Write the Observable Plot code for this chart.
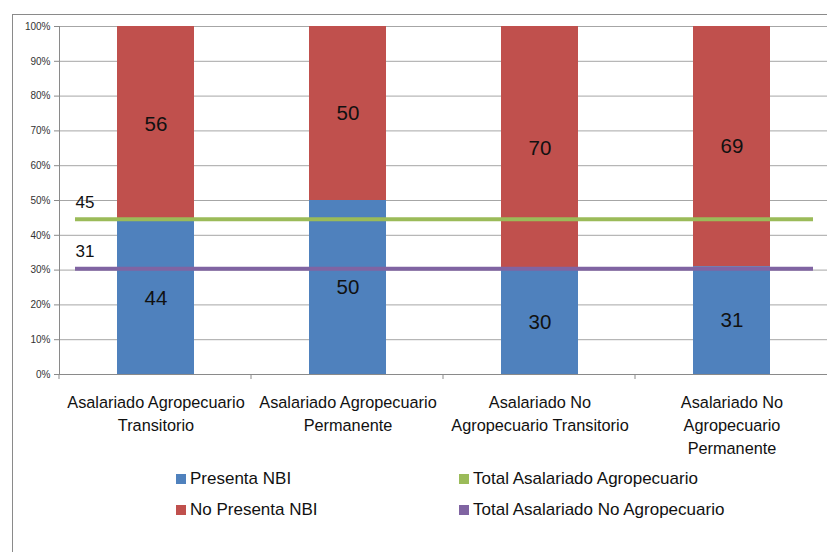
<!DOCTYPE html>
<html>
<head>
<meta charset="utf-8">
<script src="https://cdn.jsdelivr.net/npm/d3@7"></script>
<script src="https://cdn.jsdelivr.net/npm/@observablehq/plot@0.6"></script>
<style>
  html, body { margin: 0; padding: 0; background: #fff; }
  body { width: 827px; height: 552px; position: relative; overflow: hidden; font-family: "Liberation Sans", Arial, sans-serif; }
  #frame { position: absolute; left: 12px; top: 14px; width: 900px; height: 700px; border: 1px solid #8a8a8a; box-sizing: border-box; }
  #chart { position: absolute; left: 0; top: 0; }
  #legend { position: absolute; left: 0; top: 0; width: 827px; font-size: 17px; color: #111; }
  .item { position: absolute; display: flex; align-items: center; white-space: nowrap; }
  .sw { width: 10px; height: 10px; margin-right: 4px; }
</style>
</head>
<body>
<div id="frame"></div>
<div id="chart"></div>
<div id="legend"></div>
<script>
const categories = [
  "Asalariado Agropecuario Transitorio",
  "Asalariado Agropecuario Permanente",
  "Asalariado No Agropecuario Transitorio",
  "Asalariado No Agropecuario Permanente"
];
const categoryLabels = [
  "Asalariado Agropecuario\nTransitorio",
  "Asalariado Agropecuario\nPermanente",
  "Asalariado No\nAgropecuario Transitorio",
  "Asalariado No\nAgropecuario\nPermanente"
];
const seriesNames = ["Presenta NBI", "No Presenta NBI"];
const presenta = [44, 50, 30, 31];
const noPresenta = [56, 50, 70, 69];
const lineNames = ["Total Asalariado Agropecuario", "Total Asalariado No Agropecuario"];
const lineValues = [44.6, 30.4];
const lineLabels = ["45", "31"];
const yTicks = [0, 10, 20, 30, 40, 50, 60, 70, 80, 90, 100];
const barColors = ["#4F81BD", "#C0504D"];
const lineColors = ["#9BBB59", "#8064A2"];

const rows = [];
categories.forEach((c, i) => rows.push({cat: c, series: seriesNames[0], value: presenta[i]}));
categories.forEach((c, i) => rows.push({cat: c, series: seriesNames[1], value: noPresenta[i]}));
const lines = lineNames.map((n, i) => ({name: n, value: lineValues[i], label: lineLabels[i], color: lineColors[i]}));

const W = 827, H = 470;
const mL = 59, mT = 26, mB = H - 374, mR = 0;

const boundaryTicks = (index, scales, values, dims) => {
  const g = d3.create("svg:g");
  const step = (dims.width - dims.marginLeft - dims.marginRight) / categories.length;
  const y0 = dims.height - dims.marginBottom;
  for (let i = 0; i < categories.length; i++) {
    const x = dims.marginLeft + i * step;
    g.append("line").attr("x1", x).attr("x2", x).attr("y1", y0).attr("y2", y0 + 5)
      .attr("stroke", "#8a8a8a").attr("stroke-width", 1);
  }
  return g.node();
};

const plot = Plot.plot({
  width: W, height: H,
  marginLeft: mL, marginTop: mT, marginBottom: mB, marginRight: mR,
  style: {fontFamily: "'Liberation Sans', Arial, sans-serif", background: "transparent"},
  x: {domain: categories, paddingInner: 0.6, paddingOuter: 0.3, label: null},
  y: {domain: [0, 100], label: null},
  color: {domain: seriesNames, range: barColors},
  marks: [
    Plot.ruleY(yTicks.filter(d => d > 0), {stroke: "#a6a6a6", strokeWidth: 1}),
    Plot.barY(rows, {x: "cat", y: "value", fill: "series", order: seriesNames}),
    Plot.text(rows, Plot.stackY({x: "cat", y: "value", z: "series", order: seriesNames, text: d => String(d.value), fontSize: 20.5, fill: "#111"})),
    Plot.ruleY(lines, {y: "value", stroke: "color", strokeWidth: 4, insetLeft: 16, insetRight: 14}),
    Plot.text(lines, {y: "value", text: "label", frameAnchor: "left", textAnchor: "start", dx: 16, dy: -17, fontSize: 17, fill: "#111"}),
    Plot.ruleY([0], {stroke: "#8a8a8a", strokeWidth: 1}),
    Plot.frame({anchor: "left", stroke: "#8a8a8a", strokeWidth: 1}),
    Plot.axisY({ticks: yTicks, tickFormat: d => d + "%", tickSize: 5, tickPadding: 4, fontSize: 10, stroke: "#8a8a8a", fill: "#333"}),
    Plot.axisX({tickSize: 0, tickPadding: 17, fontSize: 16.3, lineHeight: 1.42, fill: "#111", tickFormat: d => categoryLabels[categories.indexOf(d)]}),
    boundaryTicks
  ]
});
document.getElementById("chart").appendChild(plot);

// Legend
const legendItems = [
  {name: seriesNames[0], color: barColors[0], x: 176, y: 479},
  {name: seriesNames[1], color: barColors[1], x: 176, y: 510},
  {name: lineNames[0], color: lineColors[0], x: 459, y: 479},
  {name: lineNames[1], color: lineColors[1], x: 459, y: 510}
];
const leg = document.getElementById("legend");
legendItems.forEach(it => {
  const d = document.createElement("div");
  d.className = "item";
  d.style.left = it.x + "px";
  d.style.top = (it.y - 10) + "px";
  d.style.height = "20px";
  d.innerHTML = `<span class="sw" style="background:${it.color}"></span><span>${it.name}</span>`;
  leg.appendChild(d);
});
</script>
</body>
</html>
